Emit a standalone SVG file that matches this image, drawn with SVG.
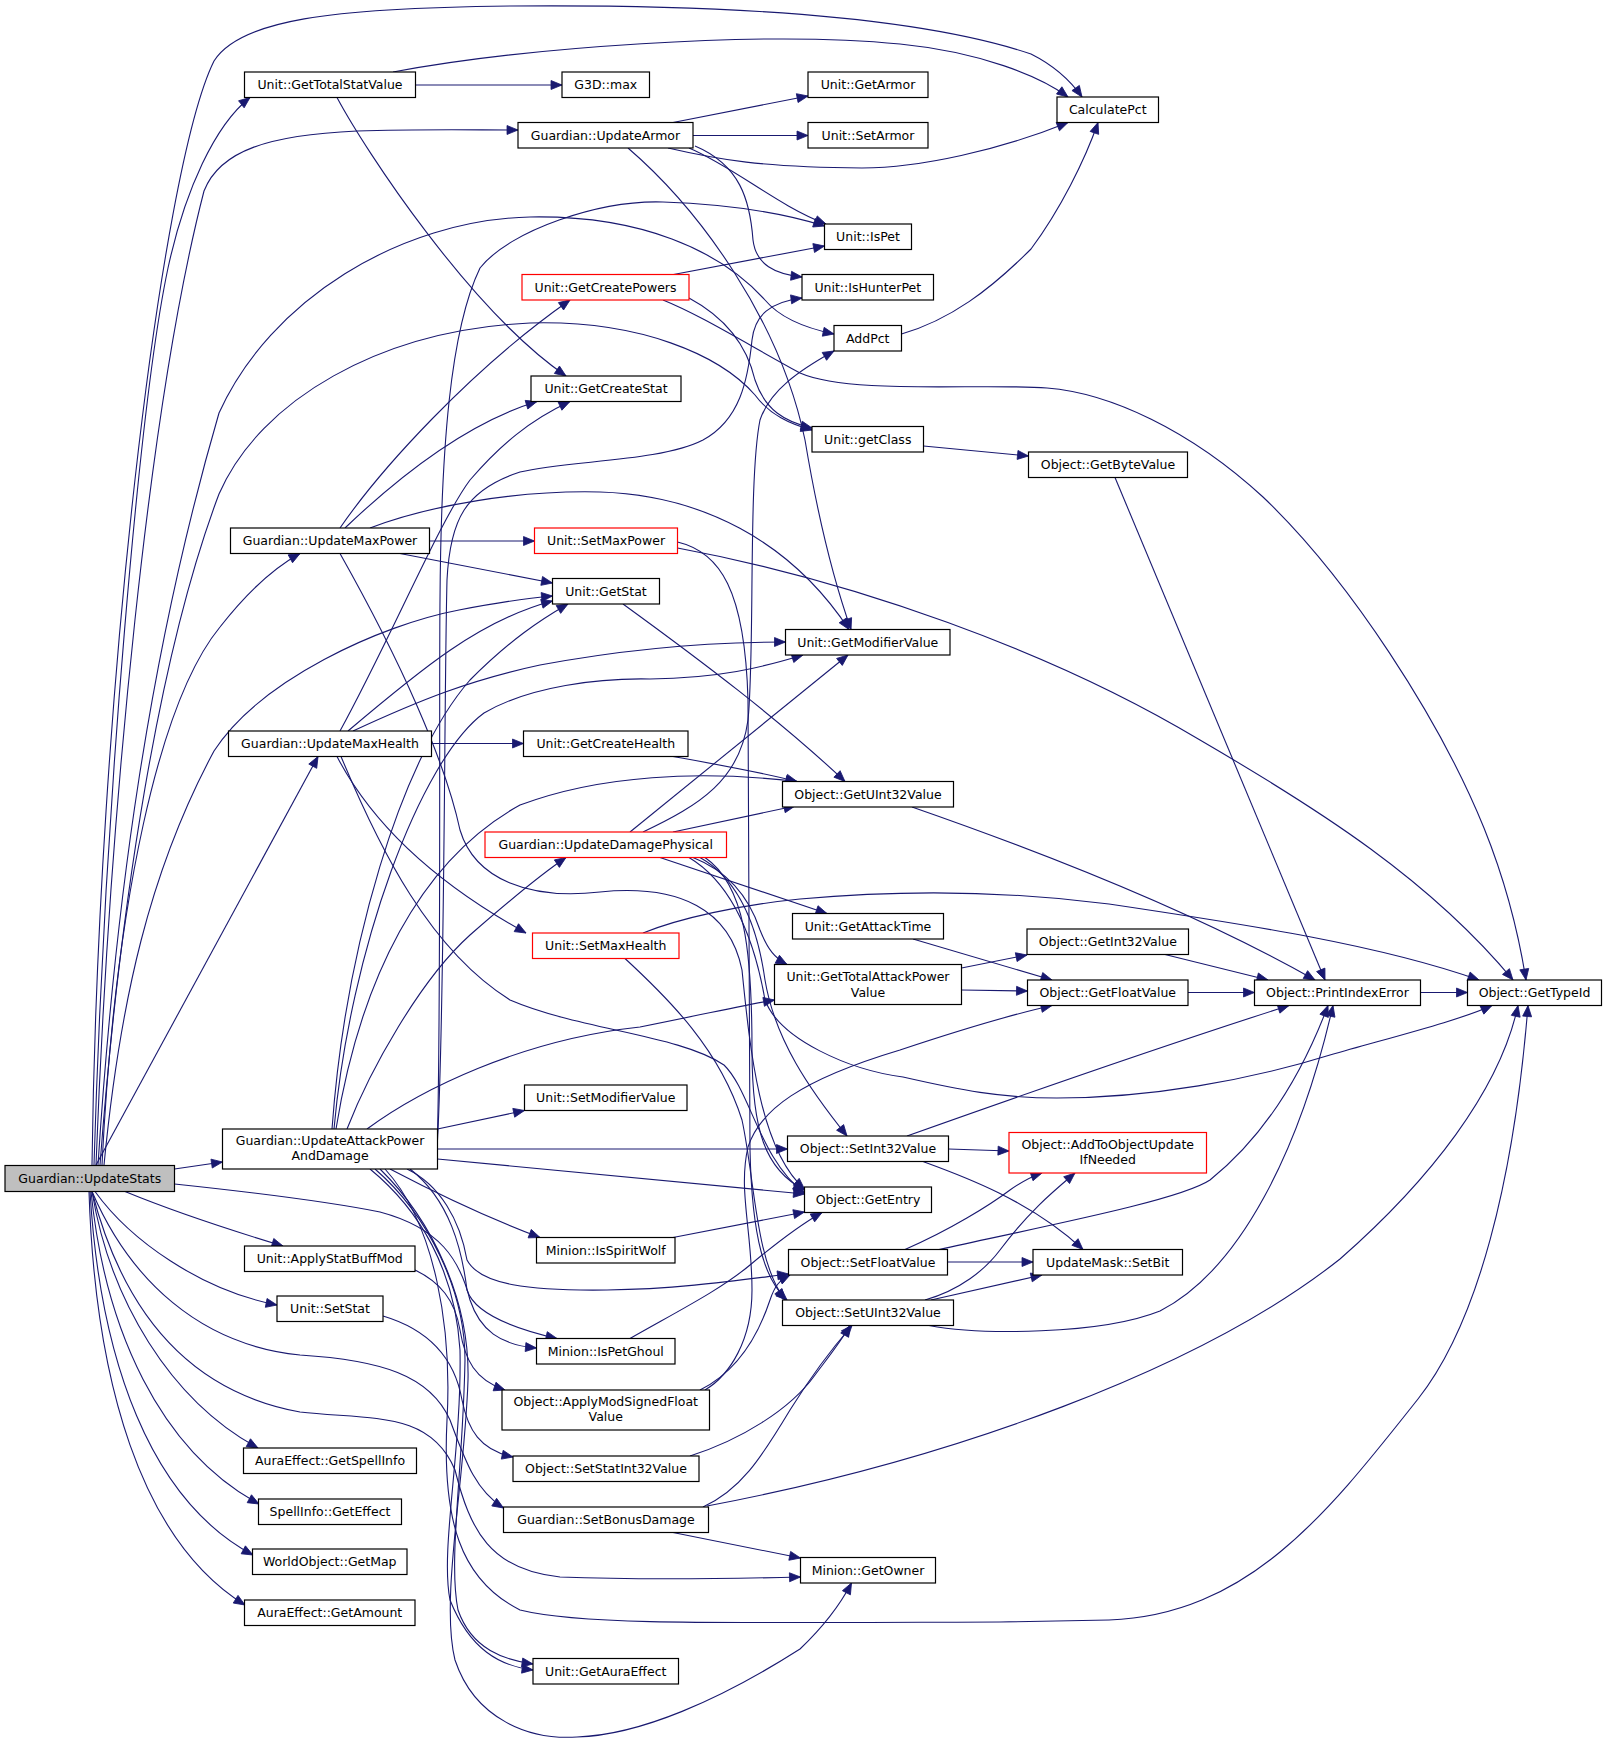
<svg xmlns="http://www.w3.org/2000/svg" width="1607" height="1744" viewBox="0 0 1607 1744">
<defs>
<style>
.node rect{fill:#ffffff;stroke:#000000;stroke-width:1.2}
.node.red rect{stroke:#ff0000}
.node.root rect{fill:#bfbfbf}
.node text{font-family:"DejaVu Sans","Liberation Sans",sans-serif;font-size:12.5px;text-anchor:middle;fill:#000000}
#edges path{fill:none;stroke:#191970;stroke-width:1.1;marker-end:url(#ah)}
</style>
<marker id="ah" markerUnits="userSpaceOnUse" markerWidth="12" markerHeight="10" refX="11" refY="4.5" orient="auto" overflow="visible">
<path d="M0,0 L11,4.5 L0,9 z" fill="#191970" stroke="#191970" stroke-width="0.8"/>
</marker>
</defs>
<rect x="0" y="0" width="1607" height="1744" fill="#ffffff"/>
<g id="edges">
<path id="e1" d="M92,1165 C98,700 160,170 214,61 C240,20 330,8 510,6 C750,4 930,20 1031,54 C1055,66 1070,80 1082,97"/>
<path id="e2" d="M94,1165 C105,800 140,400 168,268 C185,190 215,125 250,97.5"/>
<path id="e3" d="M96,1165 C110,800 150,400 204,191 C220,150 270,135 357,131 C420,129 470,130 518,130"/>
<path id="e4" d="M98,1165 C115,900 150,650 219,413 C270,300 400,220 530,217 C640,215 720,250 765,300 C780,318 805,328 834,334"/>
<path id="e5" d="M100,1165 C120,900 160,650 219,494 C260,400 380,330 530,323 C640,320 720,355 755,395 C770,415 790,424 812,430"/>
<path id="e6" d="M102,1165 C115,900 160,700 220,627 C245,595 270,570 300,553.5"/>
<path id="e7" d="M104,1165 C120,1000 150,870 214,751 C260,680 380,625 459,610 C500,602 530,598 552.5,596"/>
<path id="e8" d="M96,1165 L318,756.5"/>
<path id="e9" d="M174.5,1169 L222.5,1162"/>
<path id="e10" d="M125,1191.5 C170,1210 230,1230 283,1246"/>
<path id="e11" d="M95,1191.5 C130,1240 200,1290 277,1305"/>
<path id="e12" d="M92,1191.5 C110,1300 170,1400 258,1448"/>
<path id="e13" d="M91,1191.5 C105,1330 160,1450 259,1504"/>
<path id="e14" d="M90,1191.5 C100,1360 150,1500 253,1555"/>
<path id="e15" d="M89,1191.5 C95,1380 140,1540 245,1605"/>
<path id="e16" d="M174.5,1184 C250,1192 320,1200 380,1212 C440,1228 460,1260 470,1300 C480,1330 500,1345 536.5,1348"/>
<path id="e17" d="M92,1191.5 C130,1280 200,1345 300,1355 C380,1360 430,1375 450,1420 C465,1460 475,1490 503.5,1508"/>
<path id="e18" d="M92,1191.5 C120,1300 180,1390 300,1412 C370,1420 430,1410 455,1470 C470,1530 490,1570 560,1577 C640,1580 720,1579 800.5,1577"/>
<path id="e19" d="M415.5,85 L562,85"/>
<path id="e20" d="M393,72 C520,48 760,30 900,44 C980,52 1040,76 1068,97"/>
<path id="e21" d="M337,97.5 C365,150 470,310 566,376"/>
<path id="e22" d="M673,122.5 L808,96"/>
<path id="e23" d="M693,135.5 L808,135.5"/>
<path id="e24" d="M668,148 C720,160 760,167 862,168 C920,168 1000,150 1068,122.5"/>
<path id="e25" d="M689,148 C734,167 778,206 826,224"/>
<path id="e26" d="M695,146 C740,165 750,200 753,240 C756,265 775,274 802,277"/>
<path id="e27" d="M628,148 C700,210 780,320 805,440 C815,500 830,570 851,629.5"/>
<path id="e28" d="M437.5,1134 C441,1000 439,700 440,600 C441,450 450,330 480,268 C510,230 600,200 663,202 C720,204 780,212 824.5,226"/>
<path id="e29" d="M437.5,1140 C445,1000 444,700 447,580 C450,520 465,490 520,472 C570,460 660,462 703,440 C740,420 748,380 752,340 C755,315 770,302 802,298"/>
<path id="e30" d="M673.5,274.5 L824.5,246"/>
<path id="e31" d="M689,298 C730,320 748,350 755,380 C765,410 785,422 812,428"/>
<path id="e32" d="M663,300 C700,315 740,340 800,373 C850,395 980,383 1047,388 C1110,393 1190,430 1263,497 C1350,580 1440,720 1484,828 C1505,880 1518,930 1526,980"/>
<path id="e33" d="M901.5,334 C950,320 990,290 1031,249 C1060,210 1085,160 1098,122.5"/>
<path id="e34" d="M923.5,446 L1028.5,456"/>
<path id="e35" d="M1115,477.5 L1325,980"/>
<path id="e36" d="M340,528 C380,470 470,370 570,300"/>
<path id="e37" d="M345,528 C390,485 460,425 537,401.5"/>
<path id="e38" d="M370,528 C430,505 520,490 600,492 C700,495 790,540 849,629.5"/>
<path id="e39" d="M429.5,541 L534.5,541"/>
<path id="e40" d="M400,553.5 L552.5,583"/>
<path id="e41" d="M340,553.5 C400,660 445,760 460,830 C475,880 530,900 600,892 C680,884 730,910 742,970 C750,1050 760,1150 804.5,1189"/>
<path id="e42" d="M340,731 C390,640 440,520 470,480 C500,445 530,420 570,401.5"/>
<path id="e43" d="M348,731 C420,670 480,620 552.5,601"/>
<path id="e44" d="M353,731 C420,700 470,680 540,665 C620,650 700,642 785.5,642"/>
<path id="e45" d="M431.5,743.5 L523.5,743.5"/>
<path id="e46" d="M337,756.5 C370,820 430,880 526,933"/>
<path id="e47" d="M341,756.5 C380,850 430,950 510,1000 C580,1030 680,1035 724,1065 C750,1090 760,1160 804.5,1193"/>
<path id="e48" d="M623,604 C700,660 780,720 845,781.5"/>
<path id="e49" d="M677.5,548 C850,580 1050,650 1200,740 C1320,810 1430,880 1513,980"/>
<path id="e50" d="M677.5,542 C720,552 745,590 748,700 L750,1150 C752,1240 765,1280 787,1300"/>
<path id="e51" d="M673,756.5 C720,765 760,772 797,781.5"/>
<path id="e52" d="M332,1129 C345,950 400,760 470,680 C510,640 540,620 568,604"/>
<path id="e53" d="M334,1129 C350,950 420,760 484,713 C530,686 600,678 650,679 C720,678 760,668 803,655"/>
<path id="e54" d="M336,1129 C360,980 420,860 520,805 C600,775 700,770 797,781.5"/>
<path id="e55" d="M347,1129 C370,1070 420,980 470,935 C510,900 540,875 566,857.5"/>
<path id="e56" d="M367,1129 C420,1090 520,1040 640,1027 C700,1015 740,1006 774.5,1000"/>
<path id="e57" d="M437.5,1129 L524.5,1110.5"/>
<path id="e58" d="M437.5,1149 L787.5,1149"/>
<path id="e59" d="M437.5,1159 L804.5,1194"/>
<path id="e60" d="M390,1169 C430,1190 480,1215 540,1237.5"/>
<path id="e61" d="M407,1169 C440,1185 460,1220 467,1260 C480,1285 530,1291 607,1290 C680,1289 740,1280 788.5,1274"/>
<path id="e62" d="M410,1169 C450,1200 462,1250 467,1290 C475,1315 520,1330 557,1338.5"/>
<path id="e63" d="M370,1169 C420,1210 455,1270 460,1350 C462,1450 440,1550 450,1600 C470,1650 500,1666 533,1670"/>
<path id="e64" d="M375,1169 C428,1215 465,1290 465,1360 C463,1470 448,1560 458,1610 C472,1650 505,1660 533,1664"/>
<path id="e65" d="M380,1169 C432,1220 470,1300 468,1380 C465,1480 440,1600 455,1660 C475,1720 530,1740 577,1737 C640,1735 720,1700 800,1649 C820,1630 840,1605 851.5,1583"/>
<path id="e66" d="M385,1169 C436,1225 452,1330 447,1420 C442,1520 460,1580 520,1610 C580,1625 700,1623 1000,1622 L1109,1620 C1250,1615 1330,1510 1418,1399 C1478,1323 1514,1180 1528,1005.5"/>
<path id="e67" d="M630,832 L848,655"/>
<path id="e68" d="M643,832 C700,805 740,780 748,720 C755,650 748,480 760,420 C770,390 800,370 834,351"/>
<path id="e69" d="M673,832 L795,806"/>
<path id="e70" d="M660,857.5 L827,913.5"/>
<path id="e71" d="M693,857.5 C730,872 750,900 760,930 C768,950 775,958 787,964.5"/>
<path id="e72" d="M700,857.5 C740,880 758,930 765,980 C775,1040 810,1090 847,1136"/>
<path id="e73" d="M705,857.5 C745,885 752,950 752,1050 C752,1130 765,1170 804.5,1190"/>
<path id="e74" d="M689,857.5 C735,885 755,943 765,1000 C780,1040 850,1070 903,1077 C960,1090 1000,1098 1057,1098 C1150,1098 1250,1080 1330,1055 C1400,1035 1460,1020 1492,1005.5"/>
<path id="e75" d="M643,933 C680,918 740,905 800,899 C900,890 1000,890 1109,904 C1250,925 1380,945 1479,980"/>
<path id="e76" d="M625,958.5 C670,1000 720,1050 742,1120 C755,1180 755,1260 785,1300"/>
<path id="e77" d="M913,939 L1052,980"/>
<path id="e78" d="M961.5,968 L1027,955"/>
<path id="e79" d="M961.5,990 L1027.5,991"/>
<path id="e80" d="M1165,954.5 L1268,980"/>
<path id="e81" d="M1188,992.5 L1254.5,992.5"/>
<path id="e82" d="M1420.5,992.5 L1467.5,992.5"/>
<path id="e83" d="M912,807 C1050,855 1200,915 1315,980"/>
<path id="e84" d="M948.5,1149 L1009,1151"/>
<path id="e85" d="M907,1136 C980,1110 1150,1050 1289,1005.5"/>
<path id="e86" d="M923,1161.5 C960,1175 1030,1200 1083,1249.5"/>
<path id="e87" d="M947.5,1262 L1033,1262"/>
<path id="e88" d="M905,1249.5 C950,1230 990,1205 1010,1190 C1020,1183 1030,1177 1042,1173"/>
<path id="e89" d="M939,1249.5 C1050,1225 1180,1200 1210,1180 C1260,1140 1300,1080 1328,1005.5"/>
<path id="e90" d="M931,1300 L1042,1275"/>
<path id="e91" d="M925,1300 C960,1290 985,1270 1000,1250 C1030,1210 1055,1190 1075,1173"/>
<path id="e92" d="M929,1325.5 C980,1335 1100,1335 1160,1311 C1240,1270 1300,1150 1333,1005.5"/>
<path id="e93" d="M700,1390 C740,1370 760,1330 770,1300 C775,1285 780,1280 790,1275"/>
<path id="e94" d="M705,1390 C730,1375 752,1340 752,1290 C752,1230 738,1190 748,1147 C760,1110 800,1080 900,1050 C960,1030 1010,1015 1052,1005.5"/>
<path id="e95" d="M690,1456 C740,1440 790,1410 815,1375 C830,1355 842,1340 850,1325.5"/>
<path id="e96" d="M703,1507 C740,1490 760,1460 790,1410 C815,1370 835,1345 852,1325.5"/>
<path id="e97" d="M707,1506 C950,1460 1200,1370 1340,1259 C1430,1180 1500,1090 1518,1005.5"/>
<path id="e98" d="M673,1532.5 L800.5,1558"/>
<path id="e99" d="M673,1237.5 L804.5,1212"/>
<path id="e100" d="M630,1338.5 C680,1310 720,1290 750,1265 C780,1240 800,1225 822,1212.5"/>
<path id="e101" d="M415,1270 C440,1282 455,1300 460,1330 C465,1360 475,1380 505,1390"/>
<path id="e102" d="M383,1316 C430,1330 455,1360 462,1400 C468,1430 480,1450 513,1457"/>
</g>
<g id="n0" class="node root"><rect x="5" y="1165.5" width="169.5" height="26"/><text x="89.75" y="1183">Guardian::UpdateStats</text></g>
<g id="n1" class="node"><rect x="244.5" y="72" width="171" height="25.5"/><text x="330" y="89.25">Unit::GetTotalStatValue</text></g>
<g id="n2" class="node"><rect x="562" y="72" width="87.5" height="25.5"/><text x="605.75" y="89.25">G3D::max</text></g>
<g id="n3" class="node"><rect x="808" y="72" width="120" height="25.5"/><text x="868" y="89.25">Unit::GetArmor</text></g>
<g id="n4" class="node"><rect x="1057" y="97" width="101.5" height="25.5"/><text x="1107.75" y="114.25">CalculatePct</text></g>
<g id="n5" class="node"><rect x="518" y="122.5" width="175" height="25.5"/><text x="605.5" y="139.75">Guardian::UpdateArmor</text></g>
<g id="n6" class="node"><rect x="808" y="122.5" width="120" height="25.5"/><text x="868" y="139.75">Unit::SetArmor</text></g>
<g id="n7" class="node"><rect x="824.5" y="224" width="87" height="25.5"/><text x="868" y="241.25">Unit::IsPet</text></g>
<g id="n8" class="node red"><rect x="522" y="274.5" width="167" height="25.5"/><text x="605.5" y="291.75">Unit::GetCreatePowers</text></g>
<g id="n9" class="node"><rect x="802" y="274.5" width="131.5" height="25.5"/><text x="867.75" y="291.75">Unit::IsHunterPet</text></g>
<g id="n10" class="node"><rect x="834" y="325.5" width="67.5" height="25.5"/><text x="867.75" y="342.75">AddPct</text></g>
<g id="n11" class="node"><rect x="531" y="376" width="150" height="25.5"/><text x="606" y="393.25">Unit::GetCreateStat</text></g>
<g id="n12" class="node"><rect x="812" y="426.5" width="111.5" height="25.5"/><text x="867.75" y="443.75">Unit::getClass</text></g>
<g id="n13" class="node"><rect x="1028.5" y="452" width="159" height="25.5"/><text x="1108" y="469.25">Object::GetByteValue</text></g>
<g id="n14" class="node"><rect x="230.5" y="528" width="199" height="25.5"/><text x="330" y="545.25">Guardian::UpdateMaxPower</text></g>
<g id="n15" class="node red"><rect x="534.5" y="528" width="143" height="25.5"/><text x="606" y="545.25">Unit::SetMaxPower</text></g>
<g id="n16" class="node"><rect x="552.5" y="578.5" width="107" height="25.5"/><text x="606" y="595.75">Unit::GetStat</text></g>
<g id="n17" class="node"><rect x="785.5" y="629.5" width="164.5" height="25.5"/><text x="867.75" y="646.75">Unit::GetModifierValue</text></g>
<g id="n18" class="node"><rect x="228.5" y="731" width="203" height="25.5"/><text x="330" y="748.25">Guardian::UpdateMaxHealth</text></g>
<g id="n19" class="node"><rect x="523.5" y="731" width="164.5" height="25.5"/><text x="605.75" y="748.25">Unit::GetCreateHealth</text></g>
<g id="n20" class="node"><rect x="782.5" y="781.5" width="171" height="25.5"/><text x="868" y="798.75">Object::GetUInt32Value</text></g>
<g id="n21" class="node red"><rect x="485" y="832" width="241.5" height="25.5"/><text x="605.75" y="849.25">Guardian::UpdateDamagePhysical</text></g>
<g id="n22" class="node"><rect x="792.5" y="913.5" width="151" height="25.5"/><text x="868" y="930.75">Unit::GetAttackTime</text></g>
<g id="n23" class="node"><rect x="1027" y="929" width="161.5" height="25.5"/><text x="1107.75" y="946.25">Object::GetInt32Value</text></g>
<g id="n24" class="node red"><rect x="532.5" y="933" width="146.5" height="25.5"/><text x="605.75" y="950.25">Unit::SetMaxHealth</text></g>
<g id="n25" class="node"><rect x="774.5" y="964.5" width="187" height="40"/><text x="868" y="981">Unit::GetTotalAttackPower</text><text x="868" y="996.5">Value</text></g>
<g id="n26" class="node"><rect x="1027.5" y="980" width="160.5" height="25.5"/><text x="1107.75" y="997.25">Object::GetFloatValue</text></g>
<g id="n27" class="node"><rect x="1254.5" y="980" width="166" height="25.5"/><text x="1337.5" y="997.25">Object::PrintIndexError</text></g>
<g id="n28" class="node"><rect x="1467.5" y="980" width="134" height="25.5"/><text x="1534.5" y="997.25">Object::GetTypeId</text></g>
<g id="n29" class="node"><rect x="524.5" y="1085" width="162.5" height="25.5"/><text x="605.75" y="1102.25">Unit::SetModifierValue</text></g>
<g id="n30" class="node"><rect x="222.5" y="1129" width="215" height="40"/><text x="330" y="1145">Guardian::UpdateAttackPower</text><text x="330" y="1160">AndDamage</text></g>
<g id="n31" class="node"><rect x="787.5" y="1136" width="161" height="25.5"/><text x="868" y="1153.25">Object::SetInt32Value</text></g>
<g id="n32" class="node red"><rect x="1009" y="1132.5" width="197.5" height="40.5"/><text x="1107.75" y="1149">Object::AddToObjectUpdate</text><text x="1107.75" y="1164">IfNeeded</text></g>
<g id="n33" class="node"><rect x="804.5" y="1187" width="127" height="25.5"/><text x="868" y="1204.25">Object::GetEntry</text></g>
<g id="n34" class="node"><rect x="536.5" y="1237.5" width="138.5" height="25.5"/><text x="605.75" y="1254.75">Minion::IsSpiritWolf</text></g>
<g id="n35" class="node"><rect x="244.5" y="1246" width="170.5" height="25.5"/><text x="329.75" y="1263.25">Unit::ApplyStatBuffMod</text></g>
<g id="n36" class="node"><rect x="788.5" y="1249.5" width="159" height="25.5"/><text x="868" y="1266.75">Object::SetFloatValue</text></g>
<g id="n37" class="node"><rect x="1033" y="1249.5" width="149.5" height="25.5"/><text x="1107.75" y="1266.75">UpdateMask::SetBit</text></g>
<g id="n38" class="node"><rect x="277" y="1296" width="106" height="25.5"/><text x="330" y="1313.25">Unit::SetStat</text></g>
<g id="n39" class="node"><rect x="782.5" y="1300" width="171" height="25.5"/><text x="868" y="1317.25">Object::SetUInt32Value</text></g>
<g id="n40" class="node"><rect x="536.5" y="1338.5" width="138.5" height="25.5"/><text x="605.75" y="1355.75">Minion::IsPetGhoul</text></g>
<g id="n41" class="node"><rect x="502" y="1390" width="207.5" height="40"/><text x="605.75" y="1406">Object::ApplyModSignedFloat</text><text x="605.75" y="1421">Value</text></g>
<g id="n42" class="node"><rect x="243.5" y="1448" width="173" height="25.5"/><text x="330" y="1465.25">AuraEffect::GetSpellInfo</text></g>
<g id="n43" class="node"><rect x="513" y="1456" width="186" height="25.5"/><text x="606" y="1473.25">Object::SetStatInt32Value</text></g>
<g id="n44" class="node"><rect x="258.5" y="1499" width="143" height="25.5"/><text x="330" y="1516.25">SpellInfo::GetEffect</text></g>
<g id="n45" class="node"><rect x="503.5" y="1507" width="205" height="25.5"/><text x="606" y="1524.25">Guardian::SetBonusDamage</text></g>
<g id="n46" class="node"><rect x="252.5" y="1549" width="154.5" height="25.5"/><text x="329.75" y="1566.25">WorldObject::GetMap</text></g>
<g id="n47" class="node"><rect x="800.5" y="1557.5" width="135" height="25.5"/><text x="868" y="1574.75">Minion::GetOwner</text></g>
<g id="n48" class="node"><rect x="244.5" y="1600" width="170.5" height="25.5"/><text x="329.75" y="1617.25">AuraEffect::GetAmount</text></g>
<g id="n49" class="node"><rect x="533" y="1658.5" width="145.5" height="25.5"/><text x="605.75" y="1675.75">Unit::GetAuraEffect</text></g>
</svg>
